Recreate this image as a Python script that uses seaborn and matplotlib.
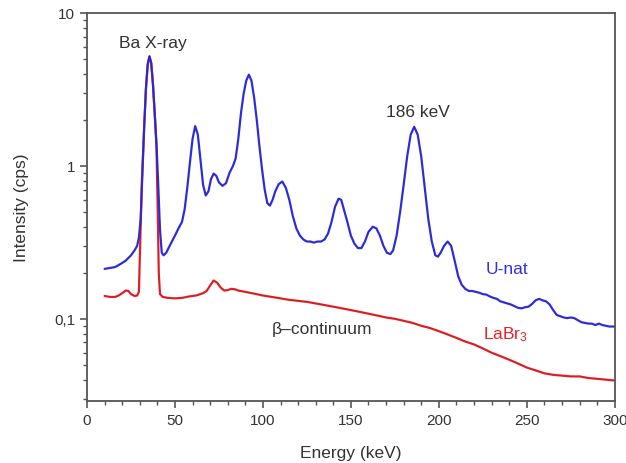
import numpy as np
import pandas as pd
import matplotlib
matplotlib.use("Agg")
import matplotlib.pyplot as plt
from matplotlib.ticker import FixedLocator, MultipleLocator, LogLocator, NullFormatter
import seaborn as sns

# U-nat spectrum (energy keV, intensity cps)
unat_e = [10, 13, 16, 19, 22, 25, 27, 28.5, 29.5, 30.5, 31.5, 32.5, 33.5, 34.5, 35.5,
          36.5, 37.5, 38.5, 39.5, 40.5, 41.5, 42.5, 43.5, 45, 47, 50, 52, 54, 55.5, 57,
          58.5, 60, 61.5, 63, 64.5, 66, 67.5, 69, 70.5, 72, 73.5, 75, 77, 79, 81, 83,
          84.5, 86, 87.5, 89, 90.5, 92, 93.5, 95, 96.5, 98, 99.5, 101, 102.5, 104, 105.5,
          107, 109, 111, 113, 115, 117, 119, 121, 123, 125, 127, 129, 131, 133, 135, 137,
          139, 141, 143, 144.5, 146, 148, 150, 152, 154, 156, 158, 160, 162.5, 164.5,
          166.5, 168.5, 170.5, 172.5, 174, 176, 178, 180, 182, 184, 186, 188, 190, 192,
          194, 196, 198, 199.5, 201, 203, 205, 207, 209, 211, 213, 215, 217, 219, 221,
          223, 225, 227, 229, 231, 233, 235, 237, 239, 241, 243, 245, 247, 249, 251, 253,
          255, 257, 259, 261, 263, 265, 267, 269, 271, 273, 275, 277, 279, 281, 283, 285,
          287, 289, 291, 293, 295, 297, 300]
unat_i = [0.212, 0.215, 0.218, 0.228, 0.24, 0.26, 0.28, 0.30, 0.34, 0.45, 0.9, 1.8, 3.2,
          4.6, 5.2, 4.7, 3.4, 2.2, 1.4, 0.75, 0.38, 0.27, 0.26, 0.27, 0.30, 0.35, 0.39,
          0.43, 0.52, 0.72, 1.05, 1.5, 1.82, 1.6, 1.1, 0.75, 0.64, 0.68, 0.82, 0.89, 0.86,
          0.78, 0.74, 0.77, 0.9, 1.0, 1.12, 1.5, 2.2, 2.95, 3.6, 3.95, 3.6, 2.8, 2.0, 1.35,
          0.95, 0.7, 0.57, 0.55, 0.6, 0.68, 0.76, 0.79, 0.72, 0.6, 0.47, 0.39, 0.35, 0.33,
          0.32, 0.32, 0.315, 0.32, 0.32, 0.33, 0.36, 0.43, 0.54, 0.61, 0.6, 0.52, 0.43,
          0.35, 0.31, 0.29, 0.29, 0.32, 0.37, 0.40, 0.39, 0.35, 0.30, 0.27, 0.265, 0.28,
          0.35, 0.5, 0.75, 1.15, 1.6, 1.8, 1.6, 1.15, 0.72, 0.45, 0.32, 0.26, 0.255, 0.27,
          0.30, 0.32, 0.30, 0.24, 0.19, 0.167, 0.157, 0.152, 0.152, 0.15, 0.148, 0.145,
          0.144, 0.14, 0.137, 0.135, 0.13, 0.128, 0.126, 0.124, 0.121, 0.118, 0.117, 0.119,
          0.12, 0.125, 0.132, 0.135, 0.132, 0.13, 0.124, 0.114, 0.106, 0.104, 0.102, 0.101,
          0.102, 0.101, 0.098, 0.095, 0.094, 0.093, 0.093, 0.091, 0.093, 0.091, 0.09,
          0.089, 0.089]

# LaBr3 intrinsic spectrum
labr_e = [10, 13, 16, 18, 20, 22, 23.5, 25, 27, 28.5, 29.5, 30.2, 31.2, 32.5, 33.5, 34.5,
          35.5, 36.5, 37.5, 38.5, 39.5, 40.2, 40.8, 41.5, 43, 46, 50, 54, 58, 62, 66, 68,
          70, 72, 74, 76, 78, 80, 82, 84, 86, 90, 95, 100, 105, 110, 115, 120, 125, 130,
          135, 140, 145, 150, 155, 160, 165, 170, 175, 180, 185, 190, 195, 200, 205, 210,
          215, 220, 225, 230, 235, 240, 245, 250, 255, 260, 265, 270, 275, 280, 285, 290,
          295, 300]
labr_i = [0.141, 0.139, 0.139, 0.142, 0.147, 0.153, 0.152, 0.145, 0.141, 0.142, 0.15, 0.3,
          0.8, 1.8, 3.2, 4.6, 5.2, 4.7, 3.4, 2.2, 1.3, 0.5, 0.2, 0.145, 0.139, 0.137,
          0.136, 0.137, 0.14, 0.142, 0.147, 0.152, 0.165, 0.178, 0.172, 0.16, 0.153, 0.154,
          0.157, 0.156, 0.153, 0.15, 0.146, 0.142, 0.139, 0.136, 0.133, 0.131, 0.129,
          0.126, 0.123, 0.12, 0.117, 0.114, 0.111, 0.108, 0.105, 0.102, 0.1, 0.097, 0.094,
          0.09, 0.087, 0.083, 0.079, 0.075, 0.071, 0.068, 0.064, 0.06, 0.057, 0.054, 0.051,
          0.048, 0.046, 0.044, 0.043, 0.0425, 0.042, 0.042, 0.041, 0.0405, 0.04, 0.0395]

xticks = [0, 50, 100, 150, 200, 250, 300]
yticks = [0.1, 1, 10]
ytick_labels = ["0,1", "1", "10"]

BLUE = "#3030e6"
RED = "#ec2226"
GREY = "#333333"

sns.set_theme(style="ticks")
plt.rcParams["font.family"] = ["Liberation Sans", "DejaVu Sans"]
plt.rcParams["mathtext.default"] = "regular"

df = pd.concat([
    pd.DataFrame({"energy": labr_e, "cps": labr_i, "src": "LaBr3"}),
    pd.DataFrame({"energy": unat_e, "cps": unat_i, "src": "U-nat"}),
], ignore_index=True)

fig = plt.figure(figsize=(6.26, 4.64), dpi=100)
ax = fig.add_axes([0.139, 0.1336, 0.843, 0.8364])

sns.lineplot(data=df, x="energy", y="cps", hue="src", palette={"LaBr3": RED, "U-nat": BLUE},
             estimator=None, sort=False, linewidth=1.6, legend=False, ax=ax)
# faint dark overlay like the original trace
sns.lineplot(data=df, x="energy", y="cps", units="src", estimator=None, sort=False,
             color="#101040", linewidth=0.5, alpha=0.2, legend=False, ax=ax)

ax.set_yscale("log")
ax.set_xlim(0, 300)
ax.set_ylim(0.029, 10)
ax.xaxis.set_major_locator(FixedLocator(xticks))
ax.xaxis.set_minor_locator(MultipleLocator(10))
ax.yaxis.set_major_locator(FixedLocator(yticks))
ax.set_yticklabels(ytick_labels)
ax.yaxis.set_minor_locator(LogLocator(base=10, subs=np.arange(2, 10)))
ax.yaxis.set_minor_formatter(NullFormatter())

for s in ax.spines.values():
    s.set_color("#555555")
    s.set_linewidth(1.3)
ax.tick_params(which="major", direction="out", length=5, width=1.2, color="#555555",
               labelsize=11, labelcolor=GREY)
ax.tick_params(which="minor", direction="out", length=3, width=1.0, color="#555555")

ax.set_xlabel("Energy (keV)", fontsize=12.5, color=GREY, labelpad=13)
ax.set_ylabel("Intensity (cps)", fontsize=12.5, color=GREY, labelpad=18)

ax.text(37.5, 6.4, "Ba X-ray", fontsize=12.5, color=GREY, ha="center", va="center")
ax.text(188, 2.25, "186 keV", fontsize=12.5, color=GREY, ha="center", va="center")
ax.text(238.5, 0.212, "U-nat", fontsize=12.5, color=BLUE, ha="center", va="center")
ax.text(238, 0.080, r"LaBr$_3$", fontsize=12.5, color=RED, ha="center", va="center")
ax.text(133.5, 0.0862, "β–continuum", fontsize=12.5, color=GREY, ha="center", va="center")

fig.savefig("out.png", dpi=100)
